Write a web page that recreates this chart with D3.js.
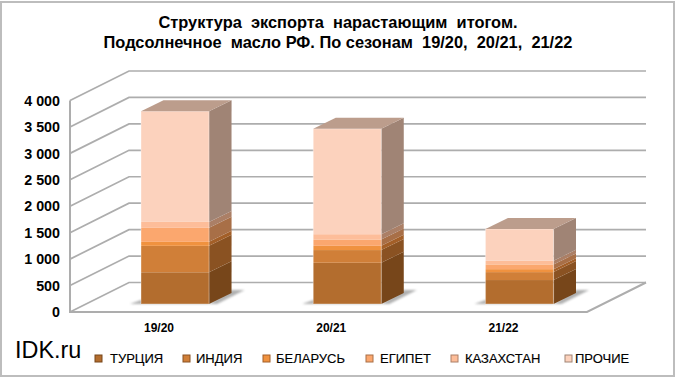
<!DOCTYPE html>
<html>
<head>
<meta charset="utf-8">
<script src="https://cdn.jsdelivr.net/npm/d3@7"></script>
<style>
  html, body { margin: 0; padding: 0; background: #fff; }
  svg { display: block; font-family: "Liberation Sans", Arial, sans-serif; }
</style>
</head>
<body>
<div id="chart"></div>
<script>
const seasons = ['19/20', '20/21', '21/22'];
const countries = ['ТУРЦИЯ', 'ИНДИЯ', 'БЕЛАРУСЬ', 'ЕГИПЕТ', 'КАЗАХСТАН', 'ПРОЧИЕ'];
const turkey = [600, 780, 453];
const india = [500, 240, 150];
const belarus = [75, 80, 56];
const egypt = [265, 120, 90];
const kazakhstan = [113, 100, 68];
const other = [2094, 1995, 603];
const yTicks = [0, 500, 1000, 1500, 2000, 2500, 3000, 3500, 4000];

const frontColors = ['#b36d2e', '#d07f38', '#f0923f', '#fba76e', '#fdbd99', '#fcd2bd'];
const sideColors = ['#77461a', '#8a5222', '#a35f28', '#a86f47', '#ab7f66', '#a08475'];
const legendX = [95, 183, 263, 366, 451, 565];
const legendTextX = [110, 196, 276, 380, 465, 575];

const width = 680;
const height = 384;
const floorFront = 312;
const barBase = 304;
const wall = {left: 70, right: 587, dx: 59, dy: -29.5};
const barDepth = {dx: 22.5, dy: -11};

const rows = seasons.map((s, i) => {
  let sum = 0;
  const vals = [turkey[i], india[i], belarus[i], egypt[i], kazakhstan[i], other[i]];
  return {season: s, layers: vals.map((v, k) => {
    const layer = {k, y0: sum, y1: sum + v};
    sum += v;
    return layer;
  })};
});

const svg = d3.select('#chart').append('svg')
  .attr('viewBox', [0, 0, width, height])
  .attr('width', width)
  .attr('height', height);

const defs = svg.append('defs');
defs.append('filter').attr('id', 'soft')
  .append('feGaussianBlur').attr('stdDeviation', 0.8);

// outer frame of the chart area
svg.append('rect')
  .attr('x', 1).attr('y', 2)
  .attr('width', 673).attr('height', 374)
  .attr('fill', '#fff')
  .attr('stroke', '#bdbdbd')
  .attr('stroke-width', 2);

const y = d3.scaleLinear().domain([0, 4000]).range([floorFront, 100.5]);
const barY = d3.scaleLinear().domain([0, 4000]).range([barBase, barBase - (floorFront - 100.5)]);
const x = d3.scaleBand().domain(seasons).range([141, 553.5]).paddingInner(0.605);

const gridColor = '#adadad';

// gridlines on the side wall and back wall
const grid = svg.append('g').attr('fill', 'none').attr('stroke', gridColor);
grid.selectAll('path')
  .data(yTicks)
  .join('path')
  .attr('stroke-width', 1.7)
  .attr('d', d => `M${wall.left},${y(d)}L${wall.left + wall.dx},${y(d) + wall.dy}H${wall.right + wall.dx}`);

// left edge and floor
grid.append('path')
  .attr('stroke-width', 2)
  .attr('d', `M${wall.left},${y(4000)}V${y(0)}H${wall.right}L${wall.right + wall.dx},${y(0) + wall.dy}`);

// floor shadows
svg.append('g').selectAll('path')
  .data(rows)
  .join('path')
  .attr('fill', '#8f9090')
  .attr('opacity', 0.7)
  .attr('filter', 'url(#soft)')
  .attr('d', d => {
    const x0 = x(d.season), x1 = x0 + x.bandwidth();
    return `M${x0 - 11},${barBase}L${x0},${barBase - 4}H${x1}V${barBase}Z`
      + `M${x1},${barBase}L${x1 + barDepth.dx},${barBase + barDepth.dy - 3}H${x1 + barDepth.dx + 13}L${x1 + 8},${barBase}Z`;
  });

// bars, one group per season
const bars = svg.append('g').selectAll('g')
  .data(rows)
  .join('g');

bars.selectAll('path.side')
  .data(d => d.layers.map(l => ({...l, season: d.season})))
  .join('path')
  .attr('class', 'side')
  .attr('fill', d => sideColors[d.k])
  .attr('d', d => {
    const x1 = x(d.season) + x.bandwidth();
    return `M${x1},${barY(d.y0)}L${x1 + barDepth.dx},${barY(d.y0) + barDepth.dy}V${barY(d.y1) + barDepth.dy}L${x1},${barY(d.y1)}Z`;
  });

bars.selectAll('rect.front')
  .data(d => d.layers.map(l => ({...l, season: d.season})))
  .join('rect')
  .attr('class', 'front')
  .attr('x', d => x(d.season))
  .attr('width', x.bandwidth())
  .attr('y', d => barY(d.y1))
  .attr('height', d => barY(d.y0) - barY(d.y1))
  .attr('fill', d => frontColors[d.k]);

// pale edge round the front face
bars.append('rect')
  .attr('x', d => x(d.season))
  .attr('width', x.bandwidth())
  .attr('y', d => barY(d.layers[5].y1))
  .attr('height', d => barBase - barY(d.layers[5].y1))
  .attr('fill', 'none')
  .attr('stroke', '#fff')
  .attr('stroke-opacity', 0.3)
  .attr('stroke-width', 1.2);

// top face
bars.append('path')
  .attr('fill', '#bc9d8c')
  .attr('d', d => {
    const x0 = x(d.season), x1 = x0 + x.bandwidth();
    const t = barY(d.layers[5].y1);
    return `M${x0},${t}L${x0 + barDepth.dx},${t + barDepth.dy}H${x1 + barDepth.dx}L${x1},${t}Z`;
  });

// y axis labels
const fmt = d => d3.format(',')(d).replace(',', ' ');
svg.append('g').selectAll('text')
  .data(yTicks)
  .join('text')
  .attr('x', 60)
  .attr('y', d => y(d))
  .attr('dy', '0.36em')
  .attr('text-anchor', 'end')
  .attr('font-size', 14.3)
  .attr('font-weight', 700)
  .attr('fill', '#000')
  .text(fmt);

// season labels
svg.append('g').selectAll('text')
  .data(seasons)
  .join('text')
  .attr('x', d => x(d) + x.bandwidth() / 2 - 16)
  .attr('y', 332)
  .attr('text-anchor', 'middle')
  .attr('font-size', 12)
  .attr('font-weight', 700)
  .text(d => d);

// title
svg.append('g').selectAll('text')
  .data(['Структура  экспорта  нарастающим  итогом.', 'Подсолнечное  масло РФ. По сезонам  19/20,  20/21,  21/22'])
  .join('text')
  .attr('x', 338)
  .attr('y', (d, i) => 28 + i * 20)
  .attr('text-anchor', 'middle')
  .attr('font-size', 16.4)
  .attr('font-weight', 700)
  .style('white-space', 'pre')
  .text(d => d);

svg.append('text')
  .attr('x', 15)
  .attr('y', 358)
  .attr('font-size', 23.4)
  .text('IDK.ru');

// legend
const legend = svg.append('g').selectAll('g')
  .data(countries)
  .join('g');

legend.append('rect')
  .attr('x', (d, i) => legendX[i])
  .attr('y', 355)
  .attr('width', 7)
  .attr('height', 7)
  .attr('fill', (d, i) => frontColors[i])
  .attr('stroke', (d, i) => sideColors[i])
  .attr('stroke-width', 1);

legend.append('text')
  .attr('x', (d, i) => legendTextX[i])
  .attr('y', 363)
  .attr('font-size', 13)
  .attr('stroke', '#000')
  .attr('stroke-width', 0.15)
  .text(d => d);
</script>
</body>
</html>
